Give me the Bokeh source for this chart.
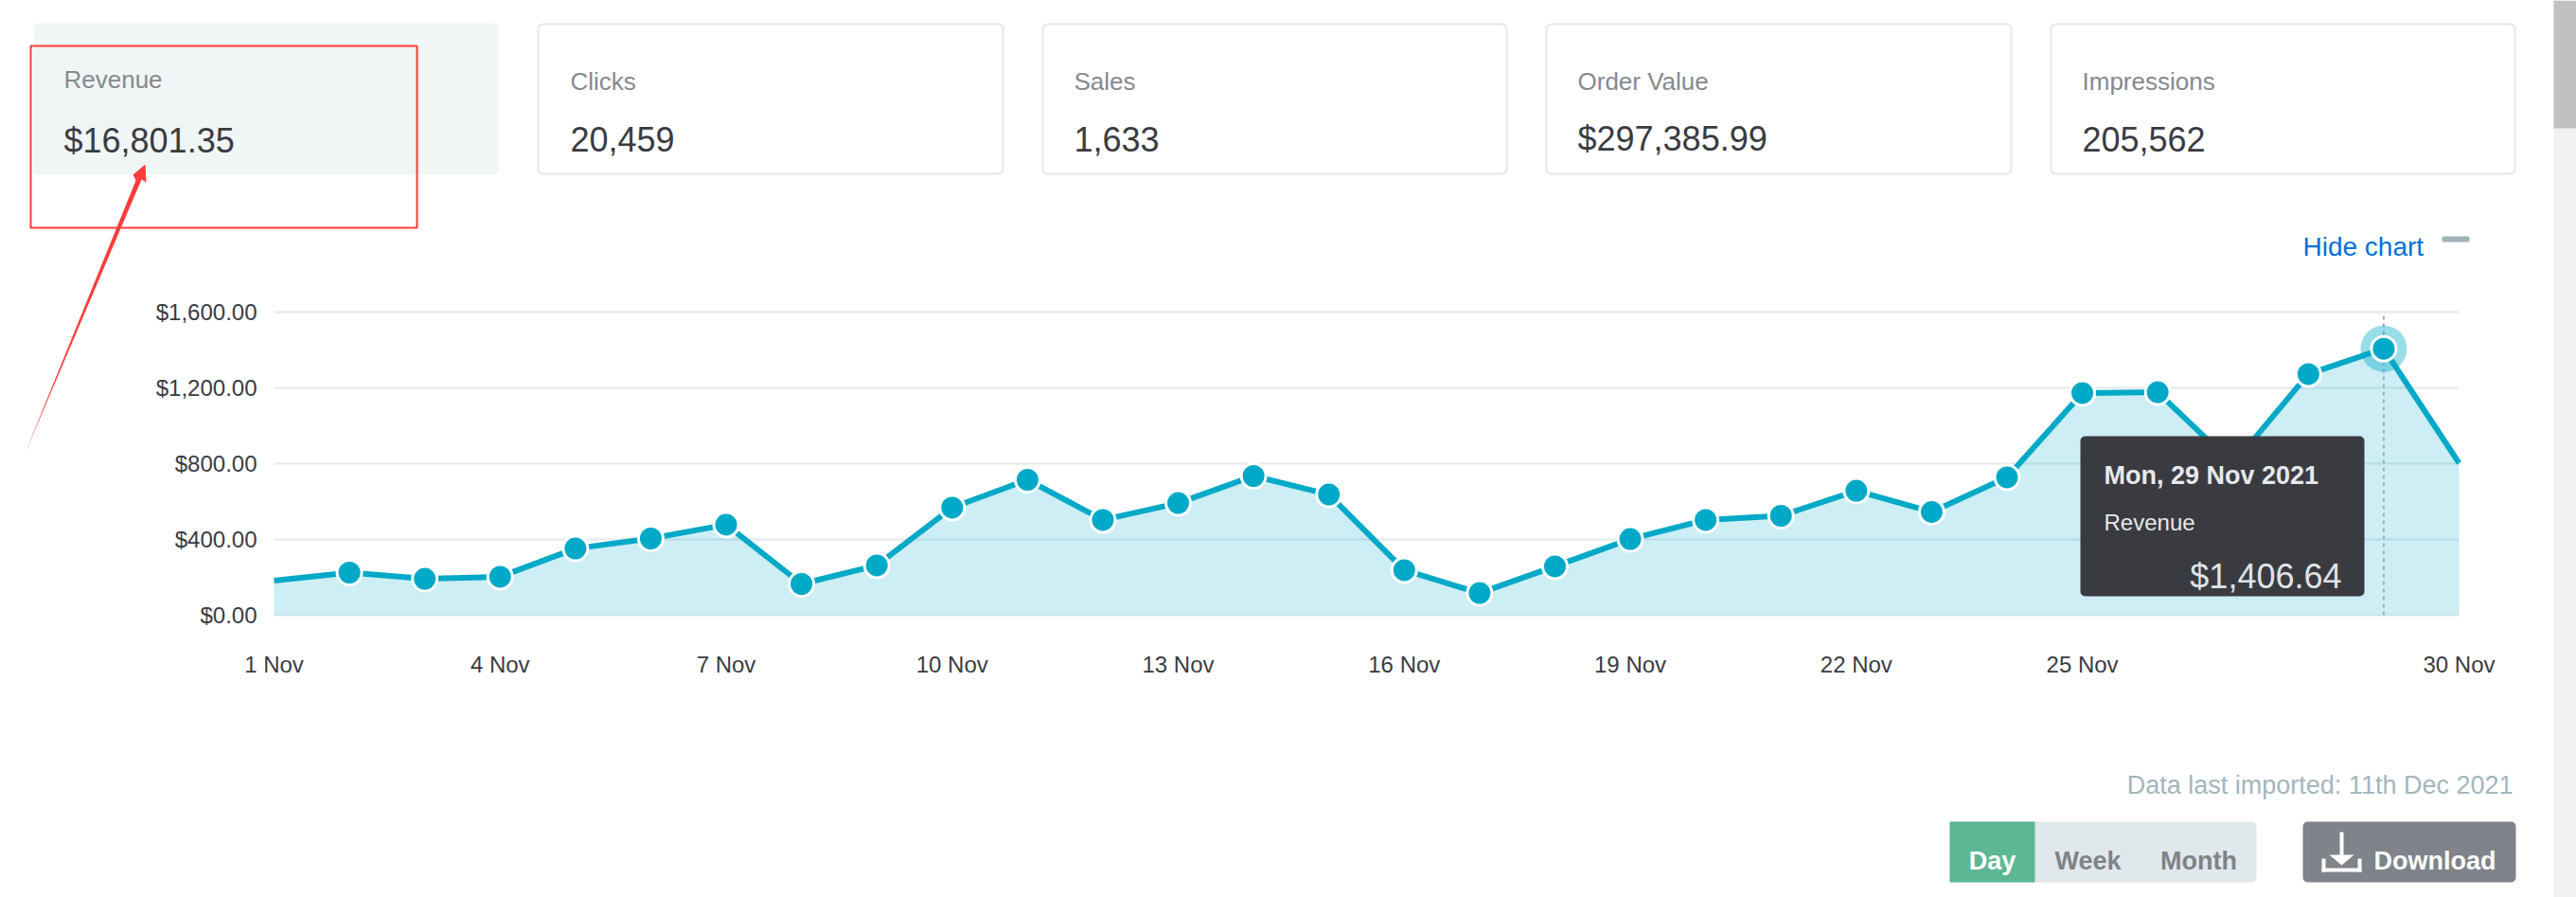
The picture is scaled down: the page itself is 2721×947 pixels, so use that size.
from bokeh.plotting import figure
from bokeh.embed import file_html
from bokeh.resources import INLINE
from bokeh.models import (BoxAnnotation, Label, PolyAnnotation, FixedTicker,
                          NumeralTickFormatter)

days = list(range(1, 31))
revenue = [183, 225, 192, 203, 352, 405, 478, 165, 263, 568, 715,
           503, 592, 735, 637, 238, 117, 258, 402, 503, 525, 657,
           545, 728, 1173, 1177, 798, 1273, 1406.64, 803]
x_ticks = [1, 4, 7, 10, 13, 16, 19, 22, 25, 30]
x_tick_labels = ["1 Nov", "4 Nov", "7 Nov", "10 Nov", "13 Nov", "16 Nov",
                 "19 Nov", "22 Nov", "25 Nov", "30 Nov"]
y_ticks = [0, 400, 800, 1200, 1600]
highlight_day = 29
highlight_value = 1406.64
card_labels = ["Revenue", "Clicks", "Sales", "Order Value", "Impressions"]
card_values = ["$16,801.35", "20,459", "1,633", "$297,385.99", "205,562"]
tooltip_date = "Mon, 29 Nov 2021"
tooltip_series = "Revenue"
tooltip_value = "$1,406.64"

FONT = "Liberation Sans"
TEAL = "#00a9c7"
INK = "#3a3b41"
GRID = "#e2e8ec"
W, H = 2721, 947
PX_PER_DAY = (2597 - 289) / 29
PX_PER_USD = 0.2

# The frame fills the canvas so the interface chrome around the chart can be drawn;
# the axes sit at fixed locations inside it.
p = figure(width=W, height=H, output_backend="svg", toolbar_location=None,
           x_range=(1 - 289 / PX_PER_DAY, 1 + (W - 289) / PX_PER_DAY),
           y_range=((649 - H) / PX_PER_USD, 649 / PX_PER_USD),
           min_border=0, outline_line_color=None,
           background_fill_color="white", border_fill_color="white")

p.grid.visible = False
p.yaxis.ticker = FixedTicker(ticks=y_ticks)
p.yaxis.formatter = NumeralTickFormatter(format="$0,0.00")
p.yaxis.fixed_location = days[0]
p.xaxis.ticker = FixedTicker(ticks=x_ticks)
p.xaxis.major_label_overrides = dict(zip(x_ticks, x_tick_labels))
p.xaxis.fixed_location = y_ticks[0]
for ax in (p.xaxis[0], p.yaxis[0]):
    ax.axis_line_color = None
    ax.major_tick_line_color = None
    ax.minor_tick_line_color = None
    ax.major_label_text_font = FONT
    ax.major_label_text_font_size = "24px"
    ax.major_label_text_color = INK
p.yaxis.major_label_standoff = 12
p.xaxis.major_label_standoff = 32

p.segment(x0=[days[0]] * len(y_ticks), x1=[days[-1]] * len(y_ticks), y0=y_ticks, y1=y_ticks,
          line_color=GRID, line_width=2)
p.varea(days, y1=[0] * len(days), y2=revenue, fill_color=TEAL, fill_alpha=0.2)
p.line([highlight_day, highlight_day], [y_ticks[0], y_ticks[-1]], line_color="#9fb0b8", line_width=2, line_dash="4 4")
p.line(days, revenue, line_color=TEAL, line_width=6)
p.scatter([highlight_day], [highlight_value], size=49, fill_color=TEAL, fill_alpha=0.4, line_color=None)
p.scatter(days[1:-1], revenue[1:-1], size=26, fill_color=TEAL, line_color="white", line_width=3)

def sx(v): return v
def sy(v): return H - v

def box(l, r, t, b, fill, line=None, lw=0, radius=0):
    p.add_layout(BoxAnnotation(left=sx(l), right=sx(r), top=sy(t), bottom=sy(b),
                               left_units="screen", right_units="screen",
                               top_units="screen", bottom_units="screen",
                               fill_color=fill, fill_alpha=1 if fill else 0,
                               line_color=line, line_width=lw, line_alpha=1 if line else 0,
                               border_radius=radius, level="annotation"))

def text(x, y, s, size, color, style="normal", align="left"):
    p.add_layout(Label(x=sx(x), y=sy(y), x_units="screen", y_units="screen", text=s,
                       text_font=FONT, text_font_size=f"{size}px", text_color=color,
                       text_font_style=style, text_align=align, text_baseline="alphabetic"))

def poly(pts, fill):
    p.add_layout(PolyAnnotation(xs=[sx(a) for a, _ in pts], ys=[sy(b) for _, b in pts],
                                xs_units="screen", ys_units="screen",
                                fill_color=fill, fill_alpha=1, line_color=None))

# scrollbar
box(2697, 2721, 0, 947, "#f1f1f1")
box(2697, 2721, 0, 135, "#c1c1c1")

# cards
card_lefts = [35, 568, 1101, 1633, 2166]
card_rights = [526, 1059, 1591, 2124, 2656]
label_xs = [67, 602, 1134, 1666, 2199]
label_ys = [83, 85, 85, 85, 85]
value_ys = [148, 146, 146, 146, 146]
for i in range(5):
    if i == 0:
        box(card_lefts[i], card_rights[i], 24, 184, "#f0f5f5", radius=5)
    else:
        box(card_lefts[i], card_rights[i], 25, 183, "white", GRID, 2, 5)
    text(label_xs[i], label_ys[i], card_labels[i], 26, "#85898e")
    text(label_xs[i], value_ys[i], card_values[i], 36, INK)

# hide chart
text(2432, 260, "Hide chart", 28, "#0070d8")
box(2579, 2608, 249, 255, "#a0b2bb", radius=2)

# red annotation
box(32, 440, 48, 240, None, "#ff3b3b", 2)
poly([(26, 478), (143, 190), (140, 184), (153, 173), (154, 192), (149, 189)], "#ff3b3b")

# tooltip
box(2197, 2497, 460, 629, INK, radius=5)
text(2222, 501, tooltip_date, 27, "#e6e9eb", "bold")
text(2222, 551, tooltip_series, 24, "#e6e9eb")
text(2473, 608, tooltip_value, 36, "#dfe3e6", align="right")

# footer
text(2654, 828, "Data last imported: 11th Dec 2021", 27, "#a3b6bd", align="right")
box(2059, 2383, 867, 931, "#e1e8ec", radius=5)
box(2059, 2149, 867, 931, "#5cb795")
text(2104, 908, "Day", 27, "white", "bold", "center")
text(2205, 908, "Week", 27, "#7f8387", "bold", "center")
text(2322, 908, "Month", 27, "#7f8387", "bold", "center")
box(2432, 2657, 867, 931, "#808389", radius=5)
text(2507, 908, "Download", 27, "white", "bold")
# download icon
box(2471, 2475, 878, 905, "white")
poly([(2460, 902), (2486, 902), (2473, 913)], "white")
box(2452, 2456, 906, 920, "white")
box(2490, 2494, 906, 920, "white")
box(2452, 2494, 916, 920, "white")

open("out.html", "w").write(file_html(p, INLINE))
